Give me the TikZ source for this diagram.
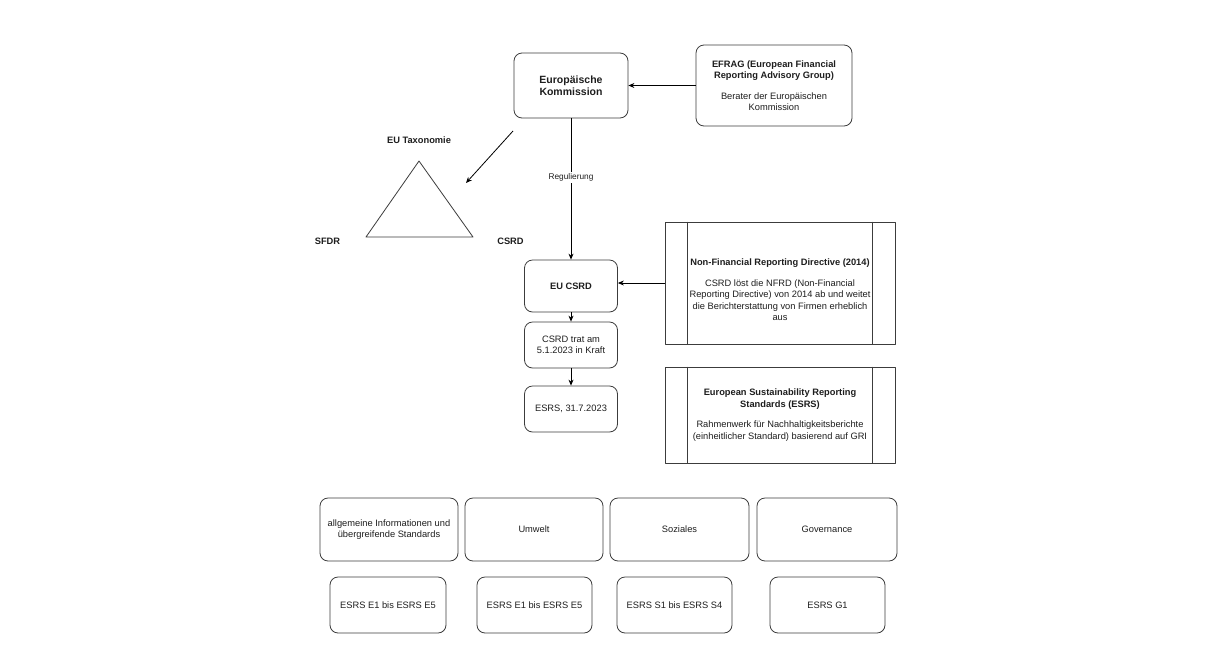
\documentclass[tikz,border=0pt]{standalone}
\usepackage{fontspec}
\setmainfont{Liberation Sans}
\usetikzlibrary{calc,arrows.meta}
\definecolor{lineg}{RGB}{60,60,60}
\definecolor{textg}{RGB}{30,30,30}
\tikzset{
  diag/.style={
    x=1pt, y=-1pt,
    line width=0.8pt,
    line join=round,
    font=\fontsize{9.3}{11.5}\selectfont,
    text=textg
  },
  box-round/.style={
    draw=lineg,
    rounded corners=8pt,
    align=center,
    inner sep=2pt
  },
  box-process/.style={
    draw=lineg,
    align=center,
    inner sep=2pt
  },
  label-bold/.style={font=\fontsize{9.3}{11.5}\selectfont\bfseries},
  link/.style={draw=black, -{Stealth[length=6pt,width=5pt]}}
}
\newcommand{\sidebars}[1]{
  \draw[lineg] ($(#1.north west)+(23,0)$) -- ($(#1.south west)+(23,0)$);
  \draw[lineg] ($(#1.north east)+(-23,0)$) -- ($(#1.south east)+(-23,0)$);
}

\begin{document}
\begin{tikzpicture}[diag]
  \useasboundingbox[fill=white] (0,0) rectangle (1208,670);
  % Kommission and advisers
  \node[box-round, minimum width=114pt, minimum height=65pt,
    font=\fontsize{10.5}{12.5}\selectfont\bfseries] (kom) at (571,85.5)
    {Europäische\\Kommission};
  \node[box-round, minimum width=156pt, minimum height=81pt] (efrag) at (774,85.5)
    {\textbf{EFRAG (European Financial}\\\textbf{Reporting Advisory Group)}\\[9pt]
     Berater der Europäischen\\Kommission};
  \draw[link] (efrag.west) -- (kom.east);
  % Taxonomie triangle
  \coordinate (tri-top) at (419,161);
  \coordinate (tri-left) at (366,237);
  \coordinate (tri-right) at (473,237);
  \draw[lineg] (tri-top) -- (tri-left) -- (tri-right) -- cycle;
  \node[label-bold] (tax) at (419,140) {EU Taxonomie};
  \node[label-bold] (sfdr) at (327.5,241) {SFDR};
  \node[label-bold] (csrd-label) at (510.5,241) {CSRD};
  \coordinate (tax-from) at (513,131);
  \coordinate (tax-to) at (466,183);
  \draw[link] (tax-from) -- (tax-to);
  % CSRD chain
  \node[box-round, minimum width=93pt, minimum height=52pt, label-bold] (csrd) at (571,286)
    {EU CSRD};
  \node[box-round, minimum width=93pt, minimum height=46pt] (trat) at (571,345)
    {CSRD trat am\\5.1.2023 in Kraft};
  \node[box-round, minimum width=93pt, minimum height=46pt] (esrs-date) at (571,409)
    {ESRS, 31.7.2023};
  \draw[link] (kom.south) -- node[pos=0.42, fill=white, inner sep=1.5pt,
    font=\fontsize{8.3}{10}\selectfont] (reg) {Regulierung} (csrd.north);
  \draw[link] (csrd.south) -- (trat.north);
  \draw[link] (trat.south) -- (esrs-date.north);
  % Directives
  \node[box-process, minimum width=230pt, minimum height=122pt] (nfrd) at (780,283) {};
  \node[align=center] (nfrd-text) at (780,290)
    {\textbf{Non-Financial Reporting Directive (2014)}\\[9pt]
     CSRD löst die NFRD (Non-Financial\\Reporting Directive) von 2014 ab und weitet\\
     die Berichterstattung von Firmen erheblich\\aus};
  \sidebars{nfrd}
  \draw[link] (nfrd.west) -- (nfrd.west -| csrd.east);
  \node[box-process, minimum width=230pt, minimum height=96pt] (esrs) at (780,415)
    {\textbf{European Sustainability Reporting}\\\textbf{Standards (ESRS)}\\[9pt]
     Rahmenwerk für Nachhaltigkeitsberichte\\(einheitlicher Standard) basierend auf GRI};
  \sidebars{esrs}
  % Topics
  \node[box-round, minimum width=138pt, minimum height=63pt] (general) at (389,529.5)
    {allgemeine Informationen und\\übergreifende Standards};
  \node[box-round, minimum width=138pt, minimum height=63pt] (env) at (534,529.5) {Umwelt};
  \node[box-round, minimum width=139pt, minimum height=63pt] (social) at (679.5,529.5) {Soziales};
  \node[box-round, minimum width=140pt, minimum height=63pt] (gov) at (827,529.5) {Governance};
  % Standards
  \node[box-round, minimum width=116pt, minimum height=56pt] (general-std) at (388,605)
    {ESRS E1 bis ESRS E5};
  \node[box-round, minimum width=115pt, minimum height=56pt] (env-std) at (534.5,605)
    {ESRS E1 bis ESRS E5};
  \node[box-round, minimum width=115pt, minimum height=56pt] (social-std) at (674.5,605)
    {ESRS S1 bis ESRS S4};
  \node[box-round, minimum width=115pt, minimum height=56pt] (gov-std) at (827.5,605)
    {ESRS G1};
\end{tikzpicture}
\end{document}
